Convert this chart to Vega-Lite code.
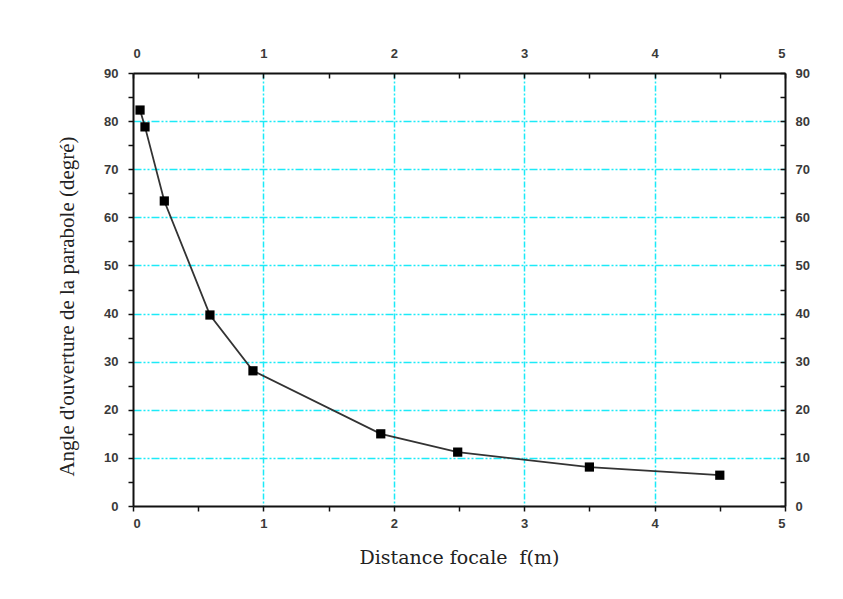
{
  "$schema": "https://vega.github.io/schema/vega-lite/v6.json",
  "autosize": {"type": "none"},
  "width": 652,
  "height": 433,
  "padding": {"left": 133, "top": 73, "right": 58, "bottom": 93},
  "background": "white",
  "config": {
    "view": {"stroke": null},
    "axis": {
      "labelFont": "Liberation Sans",
      "labelFontWeight": "bold",
      "labelFontSize": 13,
      "labelColor": "#3a3a3a",
      "domainColor": "#111",
      "domainWidth": 2,
      "tickColor": "#111",
      "tickWidth": 1.5,
      "titleFont": "Liberation Serif",
      "titleFontWeight": "normal",
      "titleFontSize": 18,
      "titleColor": "#222"
    }
  },
  "data": {
    "values": [
      {"f": 0.054, "angle": 82.3},
      {"f": 0.092, "angle": 78.8},
      {"f": 0.24, "angle": 63.4},
      {"f": 0.59, "angle": 39.7},
      {"f": 0.92, "angle": 28.1},
      {"f": 1.9, "angle": 15.0},
      {"f": 2.49, "angle": 11.2},
      {"f": 3.5, "angle": 8.1},
      {"f": 4.5, "angle": 6.4}
    ]
  },
  "layer": [
    {
      "mark": {"type": "line", "interpolate": "linear", "color": "#333", "strokeWidth": 1.8},
      "encoding": {
        "x": {
          "field": "f", "type": "quantitative",
          "scale": {"domain": [0, 5], "nice": false, "zero": false},
          "axis": {
            "orient": "bottom",
            "title": "Distance focale\u00a0\u00a0f(m)",
            "titleFont": "DejaVu Serif",
            "titleFontSize": 19,
            "values": [0, 0.5, 1, 1.5, 2, 2.5, 3, 3.5, 4, 4.5, 5],
            "labelExpr": "datum.value % 1 === 0 ? format(datum.value, 'd') : ''",
            "tickSize": 5,
            "labelPadding": 6,
            "titlePadding": 18,
            "grid": true,
            "gridColor": "#1ceaf8",
            "gridDash": [6, 2, 2, 2],
            "gridWidth": 1.5,
            "gridOpacity": {"condition": {"test": "datum.value % 1 === 0 && datum.value > 0 && datum.value < 5", "value": 1}, "value": 0}
          }
        },
        "y": {
          "field": "angle", "type": "quantitative",
          "scale": {"domain": [0, 90], "nice": false},
          "axis": {
            "orient": "left",
            "title": "Angle d'ouverture de la parabole (degré)",
            "titleFontSize": 21,
            "titleY": 233,
            "values": [0, 5, 10, 15, 20, 25, 30, 35, 40, 45, 50, 55, 60, 65, 70, 75, 80, 85, 90],
            "labelExpr": "datum.value % 10 === 0 ? format(datum.value, 'd') : ''",
            "tickSize": 5,
            "labelPadding": 10,
            "titlePadding": 26,
            "grid": true,
            "gridColor": "#1ceaf8",
            "gridDash": [8, 2, 2, 2, 2, 2],
            "gridWidth": 1.5,
            "gridOpacity": {"condition": {"test": "datum.value % 10 === 0 && datum.value > 0 && datum.value < 90", "value": 1}, "value": 0}
          }
        }
      }
    },
    {
      "mark": {"type": "square", "color": "black", "opacity": 1, "size": 85},
      "encoding": {
        "x": {
          "field": "f", "type": "quantitative",
          "axis": {
            "orient": "top",
            "title": null,
            "values": [0, 0.5, 1, 1.5, 2, 2.5, 3, 3.5, 4, 4.5, 5],
            "labelExpr": "datum.value % 1 === 0 ? format(datum.value, 'd') : ''",
            "tickSize": -5,
            "labelPadding": 18,
            "grid": false
          }
        },
        "y": {
          "field": "angle", "type": "quantitative",
          "axis": {
            "orient": "right",
            "title": null,
            "values": [0, 5, 10, 15, 20, 25, 30, 35, 40, 45, 50, 55, 60, 65, 70, 75, 80, 85, 90],
            "labelExpr": "datum.value % 10 === 0 ? format(datum.value, 'd') : ''",
            "tickSize": -5,
            "labelPadding": 15,
            "grid": false
          }
        }
      }
    }
  ],
  "resolve": {"axis": {"x": "independent", "y": "independent"}}
}
